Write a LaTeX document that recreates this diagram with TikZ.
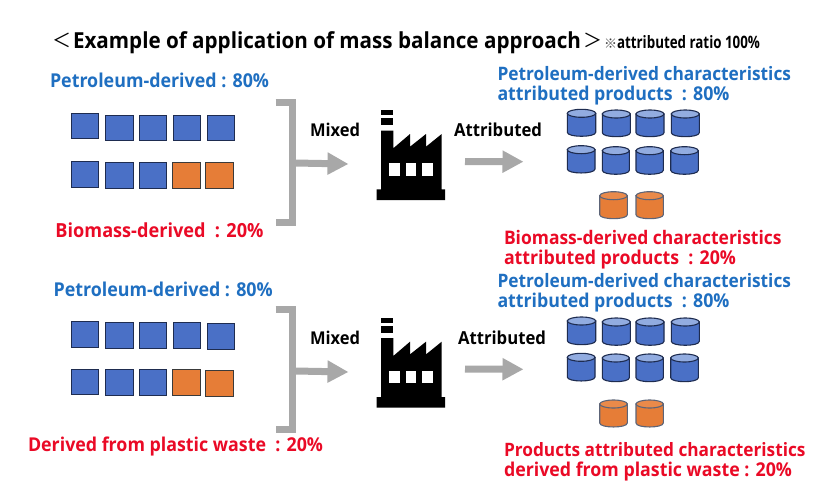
\documentclass[tikz,border=0pt]{standalone}
\usepackage{fontspec}
\usepackage{graphicx}
\setmainfont{Open Sans}
\newfontfamily\cjkfont{Noto Sans CJK JP}
\usetikzlibrary{arrows.meta}
\definecolor{txtblue}{HTML}{1F6FC1}
\definecolor{txtred}{HTML}{EA0A26}
\definecolor{fillblue}{HTML}{4A70C6}
\definecolor{topblue}{HTML}{92ACE0}
\definecolor{edgeblue}{HTML}{1E2C50}
\definecolor{fillorange}{HTML}{E67D37}
\definecolor{topsorange}{HTML}{EA8A4A}
\definecolor{edgeorange}{HTML}{5C6478}
\definecolor{edgesq}{HTML}{3A3A3A}
\definecolor{arrowgray}{HTML}{A8A8A8}
\tikzset{
  lbl/.style={anchor=base west,inner sep=0pt,outer sep=0pt,font=\bfseries\fontsize{16}{18}\selectfont},
  lblblue/.style={lbl,text=txtblue},
  lblred/.style={lbl,text=txtred},
  lblblack/.style={lbl,text=black},
  sqblue/.style={draw=edgeblue,fill=fillblue,line width=1pt},
  sqorange/.style={draw=edgesq,fill=fillorange,line width=1pt},
  cylblue/.style={draw=edgeblue,fill=fillblue,line width=1.1pt},
  cyltopblue/.style={draw=edgeblue,fill=topblue,line width=1.1pt},
  cylorange/.style={draw=edgeorange,fill=fillorange,line width=1.1pt},
  cyltoporange/.style={draw=edgeorange,fill=topsorange,line width=1.1pt},
  bracketline/.style={draw=arrowgray,line width=7pt,line join=miter},
  grayarrow/.style={draw=arrowgray,line width=7pt,-{Triangle[length=21pt,width=21pt]}},
  factorypart/.style={fill=black,draw=none},
  factorywin/.style={fill=white,draw=none}
}
\newcommand{\fitlbl}[5]{% style, name, x/y, width, text
  \node[#1] (#2) at (#3) {\scalebox{1}[1.07]{\resizebox{#4pt}{!}{#5}}};}
\newcommand{\sqr}[5]{\path[#5] (#1,#2) rectangle (#3,#4);}
\newcommand{\cyl}[6]{%
  \path[#5] (#1,{#2+4}) -- (#1,{#4-4}) .. controls (#1,{#4+1.3}) and (#3,{#4+1.3}) .. (#3,{#4-4}) -- (#3,{#2+4}) -- cycle;
  \path[#6] ({(#1+#3)/2},{#2+4}) ellipse [x radius={(#3-#1)/2},y radius=4];}
\newcommand{\factory}[1]{%
  \begin{scope}[yshift={-(#1)*1pt}]
    \fill[factorypart] (381,110) rectangle (393.3,115);
    \fill[factorypart] (381,118) rectangle (393.3,125);
    \fill[factorypart] (381,130.5) -- (393.3,130.5) -- (393.3,148.3) -- (410,134) -- (410,146.7) -- (426,134) -- (426,146.7) -- (441.7,134) -- (441.7,189.3) -- (445,189.3) -- (445,200) -- (376.7,200) -- (376.7,189.3) -- (381,189.3) -- cycle;
    \fill[factorywin] (389.3,163.3) rectangle (400,175.7);
    \fill[factorywin] (405.7,163.3) rectangle (416.3,175.7);
    \fill[factorywin] (422,163.3) rectangle (432.7,175.7);
  \end{scope}}
\begin{document}
\begin{tikzpicture}[x=1pt,y=-1pt]
\useasboundingbox (0,0) rectangle (839,501);
\fill[white] (0,0) rectangle (839,501);

% title
\node[lblblack,font=\cjkfont\fontsize{19}{20}\selectfont,anchor=base] (ltb) at (62,47.5) {＜};
\fitlbl{lblblack}{title}{73,48}{508}{Example of application of mass balance approach}
\node[lblblack,font=\cjkfont\fontsize{19}{20}\selectfont,anchor=base] (gtb) at (593,47.5) {＞};
\node[lblblack,text=black!75,font=\cjkfont\fontsize{13}{14}\selectfont,anchor=base] (kome) at (610.5,48.5) {※};
\node[lblblack] (ratio) at (617,48) {\scalebox{1}[1.28]{\resizebox{143pt}{!}{attributed ratio 100\%}}};

% upper panel labels
\fitlbl{lblblue}{pa}{50,87}{219}{Petroleum-derived : 80\%}
\fitlbl{lblred}{ba}{55.5,237}{208}{Biomass-derived\ \ : 20\%}
\fitlbl{lblblack}{ma}{310,136.7}{50}{Mixed}
\fitlbl{lblblack}{aa}{454,136.7}{88}{Attributed}
\fitlbl{lblblue}{pra}{497.5,80}{293.5}{Petroleum-derived characteristics}
\fitlbl{lblblue}{prb}{497.5,100}{232}{attributed products\ \ : 80\%}
\fitlbl{lblred}{bra}{504,244}{277.5}{Biomass-derived characteristics}
\fitlbl{lblred}{brb}{504,264}{232}{attributed products\ \ : 20\%}

% lower panel labels
\fitlbl{lblblue}{pb}{53.7,296.7}{219}{Petroleum-derived : 80\%}
\fitlbl{lblred}{db}{28,451.7}{295}{Derived from plastic waste\ \ : 20\%}
\fitlbl{lblblack}{mb}{310,344}{50}{Mixed}
\fitlbl{lblblack}{ab}{458,344}{88}{Attributed}
\fitlbl{lblblue}{prc}{497.5,287.7}{293.5}{Petroleum-derived characteristics}
\fitlbl{lblblue}{prd}{497.5,307.7}{232}{attributed products\ \ : 80\%}
\fitlbl{lblred}{pre}{504,456}{301.5}{Products attributed characteristics}
\fitlbl{lblred}{prf}{504,476}{288}{derived from plastic waste : 20\%}

% squares upper
\sqr{71}{113.3}{98.7}{138.7}{sqblue}
\sqr{105.3}{115}{133.3}{140.7}{sqblue}
\sqr{139.3}{115}{166.7}{140.7}{sqblue}
\sqr{173}{115}{200}{140.7}{sqblue}
\sqr{207.3}{115}{234.3}{140.7}{sqblue}
\sqr{71}{161.3}{98.7}{187}{sqblue}
\sqr{105.3}{162.3}{133.3}{188}{sqblue}
\sqr{139.3}{162.3}{166.7}{188}{sqblue}
\sqr{172}{162.3}{200}{188}{sqorange}
\sqr{205.7}{162.3}{233.3}{188}{sqorange}

% squares lower
\sqr{71}{321.7}{98.7}{347}{sqblue}
\sqr{105.3}{322.3}{133.3}{348}{sqblue}
\sqr{139.3}{322.3}{166.7}{348}{sqblue}
\sqr{173}{322.3}{200}{348}{sqblue}
\sqr{207.3}{323.7}{234.3}{349}{sqblue}
\sqr{71}{369}{98.7}{394.7}{sqblue}
\sqr{105.3}{369.7}{133.3}{395.3}{sqblue}
\sqr{139.3}{369.7}{166.7}{395.3}{sqblue}
\sqr{172}{369.7}{200}{395.3}{sqorange}
\sqr{205.7}{370.7}{233.3}{396.3}{sqorange}

% brackets
\coordinate (ua) at (275.7,102);
\coordinate (ub) at (292,102);
\coordinate (uc) at (292,222);
\coordinate (ud) at (275.7,222);
\draw[bracketline] (ua) -- (ub) -- (uc) -- (ud);
\coordinate (la) at (275.7,309.5);
\coordinate (lb) at (292,309.5);
\coordinate (lc) at (292,429.5);
\coordinate (ld) at (275.7,429.5);
\draw[bracketline] (la) -- (lb) -- (lc) -- (ld);

% factories
\factory{0}
\factory{207.7}

% arrows
\coordinate (uin) at (295,163);
\coordinate (uout) at (348.5,164);
\draw[grayarrow] (uin) -- (uout);
\coordinate (lin) at (295,371);
\coordinate (lout) at (348.5,372);
\draw[grayarrow] (lin) -- (lout);
\coordinate (ufrom) at (465,161.5);
\coordinate (uto) at (523.5,161.7);
\draw[grayarrow] (ufrom) -- (uto);
\coordinate (lfrom) at (465,369);
\coordinate (lto) at (523.5,369.3);
\draw[grayarrow] (lfrom) -- (lto);

% cylinders upper
\cyl{567.3}{109.3}{595.7}{136.3}{cylblue}{cyltopblue}
\cyl{602.3}{110}{630.3}{136.7}{cylblue}{cyltopblue}
\cyl{636}{110}{664}{136.7}{cylblue}{cyltopblue}
\cyl{671.3}{110}{699.3}{136.7}{cylblue}{cyltopblue}
\cyl{567.3}{145.7}{595}{173}{cylblue}{cyltopblue}
\cyl{602.3}{146.7}{629.3}{174.3}{cylblue}{cyltopblue}
\cyl{636}{146.7}{663.3}{174.3}{cylblue}{cyltopblue}
\cyl{670.7}{146.7}{698.3}{174.3}{cylblue}{cyltopblue}
\cyl{599.7}{191.7}{627.3}{218.7}{cylorange}{cyltoporange}
\cyl{636}{191.7}{663.3}{218.7}{cylorange}{cyltoporange}

% cylinders lower
\cyl{567.3}{317}{595.7}{344.7}{cylblue}{cyltopblue}
\cyl{602.3}{318}{630.3}{345.3}{cylblue}{cyltopblue}
\cyl{636}{318}{664}{345.3}{cylblue}{cyltopblue}
\cyl{671.3}{318}{699.3}{345.3}{cylblue}{cyltopblue}
\cyl{567.3}{353.3}{595}{381}{cylblue}{cyltopblue}
\cyl{602.3}{354}{629.3}{381.7}{cylblue}{cyltopblue}
\cyl{636}{354}{663.3}{381.7}{cylblue}{cyltopblue}
\cyl{670.7}{354}{698.3}{381.7}{cylblue}{cyltopblue}
\cyl{599.7}{400}{627.3}{427}{cylorange}{cyltoporange}
\cyl{636}{400}{663.3}{427}{cylorange}{cyltoporange}
\end{tikzpicture}
\end{document}
